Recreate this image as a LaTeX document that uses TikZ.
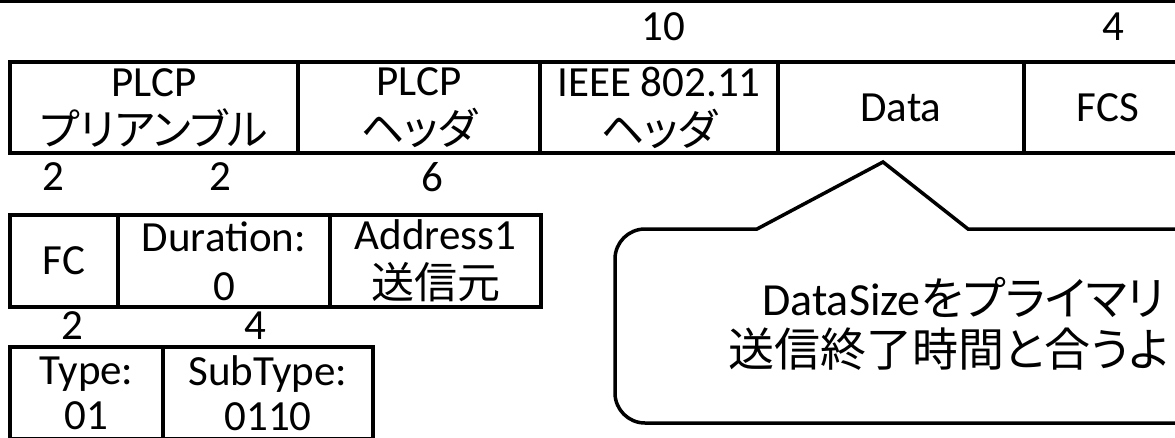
\documentclass[tikz,border=0pt]{standalone}
\usepackage{fontspec}
\setmainfont{Carlito}
\newfontfamily\jp[RawFeature=+palt]{Noto Sans CJK JP}

\begin{document}
\begin{tikzpicture}[x=1pt,y=-1pt,font=\fontsize{43}{49}\selectfont,
		field/.style={draw,line width=4pt,inner sep=0pt,align=center},
		num/.style={inner sep=0pt},
		note/.style={inner sep=0pt,anchor=west,align=left,font=\fontsize{46}{51}\selectfont}]
				\useasboundingbox (0,0) rectangle (1175,437);
				\clip (0,0) rectangle (1175,437);
				%rule along the top edge
				\draw[line width=6pt] (0,0)--(1175,0);
				%%frame fields, placed by hand
				\node[field,minimum width=288pt,minimum height=91pt] (pre) at (154,107.5){PLCP\\{\jp プリアンブル}};
				\node[field,minimum width=242pt,minimum height=91pt] (phy) at (419,107.5){PLCP\\{\jp ヘッダ}};
				\node[field,minimum width=238pt,minimum height=91pt] (mac) at (659,107.5){IEEE 802.11\\{\jp ヘッダ}};
				\node[field,minimum width=246pt,minimum height=91pt] (data) at (901,107.5){Data};
				\node[field,minimum width=168pt,minimum height=91pt] (fcs) at (1108,107.5){FCS};
				%%header fields
				\node[field,minimum width=108pt,minimum height=92pt] (fc) at (64,261){FC};
				\node[field,minimum width=212pt,minimum height=92pt] (dur) at (224,261){Duration:\\0};
				\node[field,minimum width=211pt,minimum height=92pt] (addr) at (435.5,261){Address1\\{\jp 送信元}};
				%%frame control fields
				\node[field,minimum width=153pt,minimum height=92pt,font=\fontsize{43}{45}\selectfont] (type) at (86.5,393){Type:\\01};
				\node[field,minimum width=210pt,minimum height=92pt,font=\fontsize{43}{45}\selectfont] (sub) at (268,393){SubType:\\0110};
				%% byte counts drawn with a loop
				\foreach \t/\x/\y/\n in {10/663/27/a,4/1113/27/b,2/53/177/c,2/220/177/d,6/432/177/e,2/72/326/f,4/255/326/g}{
					\node[num] (len\n) at (\x,\y){\t};
					}
				%% speech bubble pointing at the data field
				\coordinate (tip) at (883,162);
				\draw[line width=3.5pt,line join=miter] (1300,229)--(968,229)--(tip)--(757,229)--(645,229)
					arc[start angle=270,end angle=180,radius=30]--(615,393)
					arc[start angle=180,end angle=90,radius=30]--(1300,423);
				\node[note] (msg) at (728,324){\hspace*{34pt}DataSize{\jp をプライマリ}\\{\jp 送信終了時間と合うよ}};
				\end{tikzpicture}
\end{document}
